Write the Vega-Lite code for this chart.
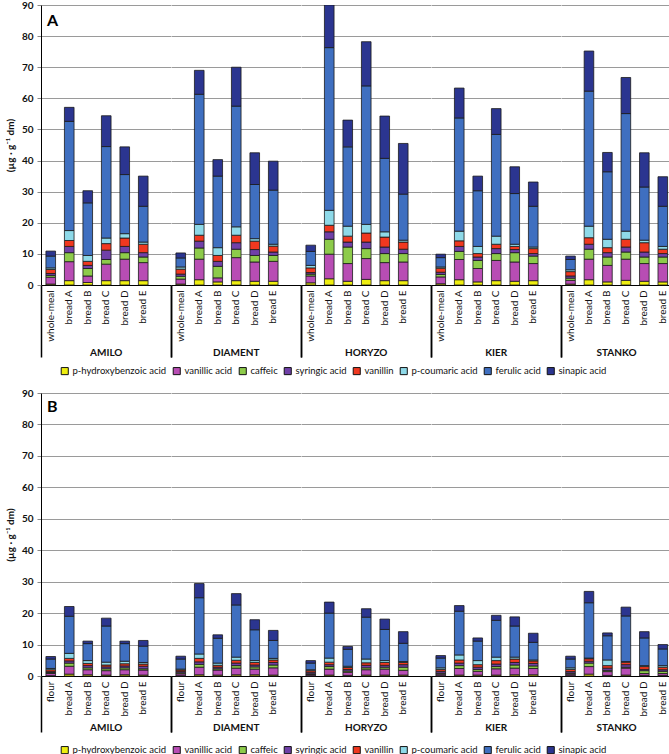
{
"$schema": "https://vega.github.io/schema/vega-lite/v6.json",
"padding": {"left": 5, "top": 0, "right": 0, "bottom": 0},
"data": {"values": [
{"p":"A","v":"AMILO","i":"whole-meal","p-hydroxybenzoic acid":0.3,"vanillic acid":2.2,"caffeic":0.6,"syringic acid":0.6,"vanillin":1.3,"p-coumaric acid":0.5,"ferulic acid":3.8,"sinapic acid":1.6},
{"p":"A","v":"AMILO","i":"bread A","p-hydroxybenzoic acid":1.4,"vanillic acid":6.1,"caffeic":2.9,"syringic acid":2.0,"vanillin":1.9,"p-coumaric acid":3.2,"ferulic acid":35.1,"sinapic acid":4.5},
{"p":"A","v":"AMILO","i":"bread B","p-hydroxybenzoic acid":0.8,"vanillic acid":2.1,"caffeic":2.4,"syringic acid":1.0,"vanillin":1.3,"p-coumaric acid":1.9,"ferulic acid":16.9,"sinapic acid":3.9},
{"p":"A","v":"AMILO","i":"bread C","p-hydroxybenzoic acid":1.4,"vanillic acid":5.3,"caffeic":1.5,"syringic acid":3.0,"vanillin":2.1,"p-coumaric acid":1.8,"ferulic acid":29.4,"sinapic acid":9.9},
{"p":"A","v":"AMILO","i":"bread D","p-hydroxybenzoic acid":1.4,"vanillic acid":6.9,"caffeic":2.1,"syringic acid":2.0,"vanillin":2.7,"p-coumaric acid":1.4,"ferulic acid":19.0,"sinapic acid":8.9},
{"p":"A","v":"AMILO","i":"bread E","p-hydroxybenzoic acid":1.4,"vanillic acid":5.8,"caffeic":1.8,"syringic acid":1.4,"vanillin":2.7,"p-coumaric acid":0.7,"ferulic acid":11.5,"sinapic acid":9.7},
{"p":"A","v":"DIAMENT","i":"whole-meal","p-hydroxybenzoic acid":0.3,"vanillic acid":1.6,"caffeic":0.9,"syringic acid":0.7,"vanillin":1.6,"p-coumaric acid":0.7,"ferulic acid":2.9,"sinapic acid":1.6},
{"p":"A","v":"DIAMENT","i":"bread A","p-hydroxybenzoic acid":1.7,"vanillic acid":6.6,"caffeic":3.6,"syringic acid":2.2,"vanillin":1.9,"p-coumaric acid":3.5,"ferulic acid":41.8,"sinapic acid":7.7},
{"p":"A","v":"DIAMENT","i":"bread B","p-hydroxybenzoic acid":1.0,"vanillic acid":1.3,"caffeic":3.7,"syringic acid":1.6,"vanillin":1.9,"p-coumaric acid":2.5,"ferulic acid":23.0,"sinapic acid":5.3},
{"p":"A","v":"DIAMENT","i":"bread C","p-hydroxybenzoic acid":1.4,"vanillic acid":7.4,"caffeic":2.7,"syringic acid":2.1,"vanillin":2.4,"p-coumaric acid":2.7,"ferulic acid":38.8,"sinapic acid":12.5},
{"p":"A","v":"DIAMENT","i":"bread D","p-hydroxybenzoic acid":1.2,"vanillic acid":6.2,"caffeic":2.1,"syringic acid":1.9,"vanillin":2.7,"p-coumaric acid":0.8,"ferulic acid":17.4,"sinapic acid":10.2},
{"p":"A","v":"DIAMENT","i":"bread E","p-hydroxybenzoic acid":1.2,"vanillic acid":6.4,"caffeic":1.9,"syringic acid":1.1,"vanillin":1.9,"p-coumaric acid":0.6,"ferulic acid":17.4,"sinapic acid":9.3},
{"p":"A","v":"HORYZO","i":"whole-meal","p-hydroxybenzoic acid":0.7,"vanillic acid":2.2,"caffeic":0.6,"syringic acid":0.5,"vanillin":1.5,"p-coumaric acid":0.8,"ferulic acid":4.5,"sinapic acid":2.0},
{"p":"A","v":"HORYZO","i":"bread A","p-hydroxybenzoic acid":2.0,"vanillic acid":7.9,"caffeic":4.8,"syringic acid":2.4,"vanillin":2.1,"p-coumaric acid":4.8,"ferulic acid":52.3,"sinapic acid":13.7},
{"p":"A","v":"HORYZO","i":"bread B","p-hydroxybenzoic acid":1.2,"vanillic acid":5.7,"caffeic":5.3,"syringic acid":1.6,"vanillin":1.9,"p-coumaric acid":3.2,"ferulic acid":25.5,"sinapic acid":8.6},
{"p":"A","v":"HORYZO","i":"bread C","p-hydroxybenzoic acid":1.8,"vanillic acid":6.7,"caffeic":3.2,"syringic acid":2.1,"vanillin":2.9,"p-coumaric acid":2.8,"ferulic acid":44.5,"sinapic acid":14.2},
{"p":"A","v":"HORYZO","i":"bread D","p-hydroxybenzoic acid":1.4,"vanillic acid":5.8,"caffeic":2.9,"syringic acid":2.1,"vanillin":3.2,"p-coumaric acid":1.7,"ferulic acid":23.6,"sinapic acid":13.6},
{"p":"A","v":"HORYZO","i":"bread E","p-hydroxybenzoic acid":1.4,"vanillic acid":6.0,"caffeic":2.7,"syringic acid":1.4,"vanillin":2.3,"p-coumaric acid":0.6,"ferulic acid":14.8,"sinapic acid":16.3},
{"p":"A","v":"KIER","i":"whole-meal","p-hydroxybenzoic acid":0.4,"vanillic acid":2.2,"caffeic":0.8,"syringic acid":0.7,"vanillin":1.3,"p-coumaric acid":0.4,"ferulic acid":3.0,"sinapic acid":1.1},
{"p":"A","v":"KIER","i":"bread A","p-hydroxybenzoic acid":1.7,"vanillic acid":6.5,"caffeic":2.6,"syringic acid":1.6,"vanillin":1.8,"p-coumaric acid":3.1,"ferulic acid":36.4,"sinapic acid":9.6},
{"p":"A","v":"KIER","i":"bread B","p-hydroxybenzoic acid":1.0,"vanillic acid":4.3,"caffeic":2.6,"syringic acid":1.1,"vanillin":1.1,"p-coumaric acid":2.3,"ferulic acid":17.9,"sinapic acid":4.7},
{"p":"A","v":"KIER","i":"bread C","p-hydroxybenzoic acid":1.4,"vanillic acid":6.5,"caffeic":2.2,"syringic acid":1.6,"vanillin":1.4,"p-coumaric acid":2.6,"ferulic acid":32.7,"sinapic acid":8.3},
{"p":"A","v":"KIER","i":"bread D","p-hydroxybenzoic acid":1.2,"vanillic acid":6.2,"caffeic":3.0,"syringic acid":1.0,"vanillin":1.0,"p-coumaric acid":0.7,"ferulic acid":16.3,"sinapic acid":8.6},
{"p":"A","v":"KIER","i":"bread E","p-hydroxybenzoic acid":1.4,"vanillic acid":5.5,"caffeic":2.4,"syringic acid":0.8,"vanillin":1.6,"p-coumaric acid":0.5,"ferulic acid":13.1,"sinapic acid":7.8},
{"p":"A","v":"STANKO","i":"whole-meal","p-hydroxybenzoic acid":0.3,"vanillic acid":1.2,"caffeic":0.7,"syringic acid":0.7,"vanillin":1.4,"p-coumaric acid":0.6,"ferulic acid":3.3,"sinapic acid":1.1},
{"p":"A","v":"STANKO","i":"bread A","p-hydroxybenzoic acid":1.7,"vanillic acid":6.6,"caffeic":3.2,"syringic acid":1.6,"vanillin":2.1,"p-coumaric acid":3.7,"ferulic acid":43.4,"sinapic acid":12.9},
{"p":"A","v":"STANKO","i":"bread B","p-hydroxybenzoic acid":1.0,"vanillic acid":5.3,"caffeic":2.7,"syringic acid":1.4,"vanillin":1.6,"p-coumaric acid":2.7,"ferulic acid":21.7,"sinapic acid":6.2},
{"p":"A","v":"STANKO","i":"bread C","p-hydroxybenzoic acid":1.5,"vanillic acid":6.8,"caffeic":2.3,"syringic acid":1.6,"vanillin":2.5,"p-coumaric acid":2.6,"ferulic acid":37.8,"sinapic acid":11.6},
{"p":"A","v":"STANKO","i":"bread D","p-hydroxybenzoic acid":1.2,"vanillic acid":5.7,"caffeic":2.1,"syringic acid":1.6,"vanillin":3.0,"p-coumaric acid":0.8,"ferulic acid":17.1,"sinapic acid":11.0},
{"p":"A","v":"STANKO","i":"bread E","p-hydroxybenzoic acid":1.0,"vanillic acid":5.9,"caffeic":2.1,"syringic acid":1.1,"vanillin":1.4,"p-coumaric acid":0.9,"ferulic acid":12.9,"sinapic acid":9.5},
{"p":"B","v":"AMILO","i":"flour","p-hydroxybenzoic acid":0.1,"vanillic acid":0.7,"caffeic":0.3,"syringic acid":0.3,"vanillin":0.6,"p-coumaric acid":0.4,"ferulic acid":3.0,"sinapic acid":0.8},
{"p":"B","v":"AMILO","i":"bread A","p-hydroxybenzoic acid":0.6,"vanillic acid":2.5,"caffeic":1.0,"syringic acid":0.7,"vanillin":0.8,"p-coumaric acid":1.6,"ferulic acid":11.8,"sinapic acid":3.1},
{"p":"B","v":"AMILO","i":"bread B","p-hydroxybenzoic acid":0.4,"vanillic acid":1.6,"caffeic":0.6,"syringic acid":0.7,"vanillin":0.7,"p-coumaric acid":0.9,"ferulic acid":5.4,"sinapic acid":0.8},
{"p":"B","v":"AMILO","i":"bread C","p-hydroxybenzoic acid":0.3,"vanillic acid":1.4,"caffeic":0.6,"syringic acid":0.6,"vanillin":0.6,"p-coumaric acid":0.9,"ferulic acid":11.5,"sinapic acid":2.5},
{"p":"B","v":"AMILO","i":"bread D","p-hydroxybenzoic acid":0.4,"vanillic acid":1.6,"caffeic":0.6,"syringic acid":0.6,"vanillin":0.7,"p-coumaric acid":0.8,"ferulic acid":5.6,"sinapic acid":0.8},
{"p":"B","v":"AMILO","i":"bread E","p-hydroxybenzoic acid":0.3,"vanillic acid":1.6,"caffeic":0.4,"syringic acid":0.8,"vanillin":0.7,"p-coumaric acid":0.5,"ferulic acid":5.2,"sinapic acid":1.8},
{"p":"B","v":"DIAMENT","i":"flour","p-hydroxybenzoic acid":0.1,"vanillic acid":0.6,"caffeic":0.3,"syringic acid":0.4,"vanillin":0.5,"p-coumaric acid":0.3,"ferulic acid":3.2,"sinapic acid":0.9},
{"p":"B","v":"DIAMENT","i":"bread A","p-hydroxybenzoic acid":0.4,"vanillic acid":2.4,"caffeic":0.9,"syringic acid":0.8,"vanillin":1.1,"p-coumaric acid":1.4,"ferulic acid":17.9,"sinapic acid":4.5},
{"p":"B","v":"DIAMENT","i":"bread B","p-hydroxybenzoic acid":0.3,"vanillic acid":1.6,"caffeic":0.4,"syringic acid":0.5,"vanillin":0.6,"p-coumaric acid":0.7,"ferulic acid":7.9,"sinapic acid":1.1},
{"p":"B","v":"DIAMENT","i":"bread C","p-hydroxybenzoic acid":0.4,"vanillic acid":2.1,"caffeic":0.8,"syringic acid":0.8,"vanillin":0.9,"p-coumaric acid":1.0,"ferulic acid":16.6,"sinapic acid":3.6},
{"p":"B","v":"DIAMENT","i":"bread D","p-hydroxybenzoic acid":0.4,"vanillic acid":1.8,"caffeic":0.7,"syringic acid":0.6,"vanillin":0.8,"p-coumaric acid":0.6,"ferulic acid":9.8,"sinapic acid":3.2},
{"p":"B","v":"DIAMENT","i":"bread E","p-hydroxybenzoic acid":0.3,"vanillic acid":2.3,"caffeic":0.9,"syringic acid":0.8,"vanillin":0.8,"p-coumaric acid":0.5,"ferulic acid":5.7,"sinapic acid":3.2},
{"p":"B","v":"HORYZO","i":"flour","p-hydroxybenzoic acid":0.1,"vanillic acid":0.4,"caffeic":0.2,"syringic acid":0.5,"vanillin":0.5,"p-coumaric acid":0.3,"ferulic acid":2.1,"sinapic acid":0.8},
{"p":"B","v":"HORYZO","i":"bread A","p-hydroxybenzoic acid":0.3,"vanillic acid":1.9,"caffeic":0.8,"syringic acid":0.6,"vanillin":0.8,"p-coumaric acid":1.3,"ferulic acid":14.3,"sinapic acid":3.5},
{"p":"B","v":"HORYZO","i":"bread B","p-hydroxybenzoic acid":0.2,"vanillic acid":1.0,"caffeic":0.4,"syringic acid":0.5,"vanillin":0.6,"p-coumaric acid":0.4,"ferulic acid":5.4,"sinapic acid":0.9},
{"p":"B","v":"HORYZO","i":"bread C","p-hydroxybenzoic acid":0.3,"vanillic acid":1.7,"caffeic":0.6,"syringic acid":0.8,"vanillin":0.8,"p-coumaric acid":1.2,"ferulic acid":13.3,"sinapic acid":2.7},
{"p":"B","v":"HORYZO","i":"bread D","p-hydroxybenzoic acid":0.3,"vanillic acid":1.9,"caffeic":0.6,"syringic acid":0.6,"vanillin":0.9,"p-coumaric acid":0.6,"ferulic acid":9.9,"sinapic acid":3.3},
{"p":"B","v":"HORYZO","i":"bread E","p-hydroxybenzoic acid":0.3,"vanillic acid":1.5,"caffeic":1.0,"syringic acid":0.8,"vanillin":0.7,"p-coumaric acid":0.3,"ferulic acid":5.8,"sinapic acid":3.7},
{"p":"B","v":"KIER","i":"flour","p-hydroxybenzoic acid":0.1,"vanillic acid":0.5,"caffeic":0.3,"syringic acid":0.6,"vanillin":0.6,"p-coumaric acid":0.5,"ferulic acid":3.1,"sinapic acid":0.8},
{"p":"B","v":"KIER","i":"bread A","p-hydroxybenzoic acid":0.3,"vanillic acid":2.1,"caffeic":0.9,"syringic acid":0.8,"vanillin":1.0,"p-coumaric acid":1.6,"ferulic acid":13.9,"sinapic acid":1.8},
{"p":"B","v":"KIER","i":"bread B","p-hydroxybenzoic acid":0.3,"vanillic acid":1.2,"caffeic":0.6,"syringic acid":0.7,"vanillin":0.8,"p-coumaric acid":1.3,"ferulic acid":6.2,"sinapic acid":1.0},
{"p":"B","v":"KIER","i":"bread C","p-hydroxybenzoic acid":0.3,"vanillic acid":2.0,"caffeic":0.7,"syringic acid":0.8,"vanillin":1.1,"p-coumaric acid":1.1,"ferulic acid":11.7,"sinapic acid":1.6},
{"p":"B","v":"KIER","i":"bread D","p-hydroxybenzoic acid":0.4,"vanillic acid":2.1,"caffeic":1.0,"syringic acid":0.8,"vanillin":1.1,"p-coumaric acid":0.6,"ferulic acid":9.9,"sinapic acid":2.9},
{"p":"B","v":"KIER","i":"bread E","p-hydroxybenzoic acid":0.4,"vanillic acid":2.0,"caffeic":0.8,"syringic acid":0.8,"vanillin":0.8,"p-coumaric acid":0.3,"ferulic acid":5.6,"sinapic acid":2.9},
{"p":"B","v":"STANKO","i":"flour","p-hydroxybenzoic acid":0.1,"vanillic acid":0.5,"caffeic":0.3,"syringic acid":0.5,"vanillin":0.7,"p-coumaric acid":0.5,"ferulic acid":2.8,"sinapic acid":0.9},
{"p":"B","v":"STANKO","i":"bread A","p-hydroxybenzoic acid":0.6,"vanillic acid":2.4,"caffeic":1.1,"syringic acid":0.6,"vanillin":0.8,"p-coumaric acid":0.2,"ferulic acid":17.6,"sinapic acid":3.6},
{"p":"B","v":"STANKO","i":"bread B","p-hydroxybenzoic acid":0.2,"vanillic acid":1.2,"caffeic":0.4,"syringic acid":0.7,"vanillin":0.8,"p-coumaric acid":1.8,"ferulic acid":7.7,"sinapic acid":0.9},
{"p":"B","v":"STANKO","i":"bread C","p-hydroxybenzoic acid":0.3,"vanillic acid":2.2,"caffeic":0.3,"syringic acid":0.8,"vanillin":0.8,"p-coumaric acid":0.2,"ferulic acid":14.5,"sinapic acid":2.8},
{"p":"B","v":"STANKO","i":"bread D","p-hydroxybenzoic acid":0.2,"vanillic acid":0.6,"caffeic":0.9,"syringic acid":0.4,"vanillin":0.9,"p-coumaric acid":0.3,"ferulic acid":8.8,"sinapic acid":2.0},
{"p":"B","v":"STANKO","i":"bread E","p-hydroxybenzoic acid":0.2,"vanillic acid":0.6,"caffeic":0.7,"syringic acid":0.5,"vanillin":0.8,"p-coumaric acid":0.5,"ferulic acid":5.3,"sinapic acid":1.4}
]},
"transform": [
 {"fold": ["p-hydroxybenzoic acid","vanillic acid","caffeic","syringic acid","vanillin","p-coumaric acid","ferulic acid","sinapic acid"], "as": ["compound","value"]},
 {"calculate": "indexof(['p-hydroxybenzoic acid','vanillic acid','caffeic','syringic acid','vanillin','p-coumaric acid','ferulic acid','sinapic acid'], datum.compound)", "as": "k"}
],
"spacing": 11,
"resolve": {"scale": {"color": "independent"}},
"vconcat": [
{"hconcat": [
 {"width": 129.5, "height": 280,
  "transform": [{"filter": "datum.p=='A' && datum.v=='AMILO'"}],
  "layer": [
   {"mark": {"type": "bar", "stroke": "#1a1a1a", "strokeWidth": 0.8},
    "encoding": {
     "x": {"field": "i", "type": "nominal", "scale": {"domain": ["whole-meal","bread A","bread B","bread C","bread D","bread E"], "paddingInner": 0.48, "paddingOuter": 0.74, "align": 0.18}, "axis": {"title": "AMILO", "titleY": 62, "labelAngle": -90, "ticks": false, "labelPadding": 5, "titleFontWeight": "bold", "domainColor": "#000"}},
     "y": {"field": "value", "type": "quantitative", "stack": "zero", "scale": {"domain": [0, 90], "nice": false}, "axis": {"values": [0,10,20,30,40,50,60,70,80,90], "labelOverlap": false, "grid": true, "labelFontWeight": "bold", "tickSize": 4, "labelPadding": 4, "title": "(µg · g⁻¹ dm)", "titleFontWeight": "bold", "titlePadding": 6, "domainColor": "#000"}},
     "order": {"field": "k", "type": "quantitative"},
     "color": {"field": "compound", "type": "nominal", "title": " ", "scale": {"domain": ["p-hydroxybenzoic acid","vanillic acid","caffeic","syringic acid","vanillin","p-coumaric acid","ferulic acid","sinapic acid"], "range": ["#EEEE10","#B84DB4","#8DCB4A","#7040A8","#F0381F","#8ED9E8","#3F6FC0","#2B3590"]}}
    }},
   {"transform": [{"filter": "datum.i=='whole-meal' && datum.compound=='caffeic'"}],
    "mark": {"type": "text", "text": "A", "fontSize": 16, "fontWeight": "bold", "align": "left", "baseline": "middle", "dx": 2},
    "encoding": {
     "x": {"datum": "whole-meal", "type": "nominal", "scale": {"domain": ["whole-meal","bread A","bread B","bread C","bread D","bread E"], "paddingInner": 0.48, "paddingOuter": 0.74, "align": 0.18}, "axis": null},
     "y": {"datum": 85, "type": "quantitative", "scale": {"domain": [0, 90], "nice": false}, "axis": null}}},
   {"mark": {"type": "point", "opacity": 0},
    "encoding": {"x": {"field": "v", "type": "nominal", "scale": {"type": "band", "paddingInner": 0, "paddingOuter": 0}, "axis": {"orient": "bottom", "tickBand": "extent", "tickSize": 72, "tickColor": "#000", "tickWidth": 1.5, "labels": false, "domain": false, "title": null, "grid": false}}}}
  ],
  "resolve": {"scale": {"x": "independent", "y": "independent"}, "axis": {"x": "independent", "y": "independent"}}},
 {"width": 129.5, "height": 280,
  "transform": [{"filter": "datum.p=='A' && datum.v=='DIAMENT'"}],
  "layer": [
   {"mark": {"type": "bar", "stroke": "#1a1a1a", "strokeWidth": 0.8},
    "encoding": {
     "x": {"field": "i", "type": "nominal", "scale": {"domain": ["whole-meal","bread A","bread B","bread C","bread D","bread E"], "paddingInner": 0.48, "paddingOuter": 0.74, "align": 0.18}, "axis": {"title": "DIAMENT", "titleY": 62, "labelAngle": -90, "ticks": false, "labelPadding": 5, "titleFontWeight": "bold", "domainColor": "#000"}},
     "y": {"field": "value", "type": "quantitative", "stack": "zero", "scale": {"domain": [0, 90], "nice": false}, "axis": {"values": [0,10,20,30,40,50,60,70,80,90], "grid": true, "labels": false, "ticks": false, "domain": false, "title": null}},
     "order": {"field": "k", "type": "quantitative"},
     "color": {"field": "compound", "type": "nominal", "title": " ", "scale": {"domain": ["p-hydroxybenzoic acid","vanillic acid","caffeic","syringic acid","vanillin","p-coumaric acid","ferulic acid","sinapic acid"], "range": ["#EEEE10","#B84DB4","#8DCB4A","#7040A8","#F0381F","#8ED9E8","#3F6FC0","#2B3590"]}}
    }},
   {"mark": {"type": "point", "opacity": 0},
    "encoding": {"x": {"field": "v", "type": "nominal", "scale": {"type": "band", "paddingInner": 0, "paddingOuter": 0}, "axis": {"orient": "bottom", "tickBand": "extent", "tickSize": 72, "tickColor": "#000", "tickWidth": 1.5, "labels": false, "domain": false, "title": null, "grid": false}}}}
  ],
  "resolve": {"scale": {"x": "independent"}, "axis": {"x": "independent"}}},
 {"width": 129.5, "height": 280,
  "transform": [{"filter": "datum.p=='A' && datum.v=='HORYZO'"}],
  "layer": [
   {"mark": {"type": "bar", "stroke": "#1a1a1a", "strokeWidth": 0.8, "clip": true},
    "encoding": {
     "x": {"field": "i", "type": "nominal", "scale": {"domain": ["whole-meal","bread A","bread B","bread C","bread D","bread E"], "paddingInner": 0.48, "paddingOuter": 0.74, "align": 0.18}, "axis": {"title": "HORYZO", "titleY": 62, "labelAngle": -90, "ticks": false, "labelPadding": 5, "titleFontWeight": "bold", "domainColor": "#000"}},
     "y": {"field": "value", "type": "quantitative", "stack": "zero", "scale": {"domain": [0, 90], "nice": false}, "axis": {"values": [0,10,20,30,40,50,60,70,80,90], "grid": true, "labels": false, "ticks": false, "domain": false, "title": null}},
     "order": {"field": "k", "type": "quantitative"},
     "color": {"field": "compound", "type": "nominal", "title": " ", "scale": {"domain": ["p-hydroxybenzoic acid","vanillic acid","caffeic","syringic acid","vanillin","p-coumaric acid","ferulic acid","sinapic acid"], "range": ["#EEEE10","#B84DB4","#8DCB4A","#7040A8","#F0381F","#8ED9E8","#3F6FC0","#2B3590"]}}
    }},
   {"mark": {"type": "point", "opacity": 0},
    "encoding": {"x": {"field": "v", "type": "nominal", "scale": {"type": "band", "paddingInner": 0, "paddingOuter": 0}, "axis": {"orient": "bottom", "tickBand": "extent", "tickSize": 72, "tickColor": "#000", "tickWidth": 1.5, "labels": false, "domain": false, "title": null, "grid": false}}}}
  ],
  "resolve": {"scale": {"x": "independent"}, "axis": {"x": "independent"}}},
 {"width": 129.5, "height": 280,
  "transform": [{"filter": "datum.p=='A' && datum.v=='KIER'"}],
  "layer": [
   {"mark": {"type": "bar", "stroke": "#1a1a1a", "strokeWidth": 0.8},
    "encoding": {
     "x": {"field": "i", "type": "nominal", "scale": {"domain": ["whole-meal","bread A","bread B","bread C","bread D","bread E"], "paddingInner": 0.48, "paddingOuter": 0.74, "align": 0.18}, "axis": {"title": "KIER", "titleY": 62, "labelAngle": -90, "ticks": false, "labelPadding": 5, "titleFontWeight": "bold", "domainColor": "#000"}},
     "y": {"field": "value", "type": "quantitative", "stack": "zero", "scale": {"domain": [0, 90], "nice": false}, "axis": {"values": [0,10,20,30,40,50,60,70,80,90], "grid": true, "labels": false, "ticks": false, "domain": false, "title": null}},
     "order": {"field": "k", "type": "quantitative"},
     "color": {"field": "compound", "type": "nominal", "title": " ", "scale": {"domain": ["p-hydroxybenzoic acid","vanillic acid","caffeic","syringic acid","vanillin","p-coumaric acid","ferulic acid","sinapic acid"], "range": ["#EEEE10","#B84DB4","#8DCB4A","#7040A8","#F0381F","#8ED9E8","#3F6FC0","#2B3590"]}}
    }},
   {"mark": {"type": "point", "opacity": 0},
    "encoding": {"x": {"field": "v", "type": "nominal", "scale": {"type": "band", "paddingInner": 0, "paddingOuter": 0}, "axis": {"orient": "bottom", "tickBand": "extent", "tickSize": 72, "tickColor": "#000", "tickWidth": 1.5, "labels": false, "domain": false, "title": null, "grid": false}}}}
  ],
  "resolve": {"scale": {"x": "independent"}, "axis": {"x": "independent"}}},
 {"width": 110, "height": 280,
  "transform": [{"filter": "datum.p=='A' && datum.v=='STANKO'"}],
  "layer": [
   {"mark": {"type": "bar", "stroke": "#1a1a1a", "strokeWidth": 0.8},
    "encoding": {
     "x": {"field": "i", "type": "nominal", "scale": {"domain": ["whole-meal","bread A","bread B","bread C","bread D","bread E"], "paddingInner": 0.48, "paddingOuter": 0.22, "align": 0.58}, "axis": {"title": "STANKO", "titleY": 62, "labelAngle": -90, "ticks": false, "labelPadding": 5, "titleFontWeight": "bold", "domainColor": "#000"}},
     "y": {"field": "value", "type": "quantitative", "stack": "zero", "scale": {"domain": [0, 90], "nice": false}, "axis": {"orient": "right", "values": [0,10,20,30,40,50,60,70,80,90], "grid": true, "labels": false, "ticks": false, "domain": true, "domainColor": "#999", "title": null}},
     "order": {"field": "k", "type": "quantitative"},
     "color": {"field": "compound", "type": "nominal", "title": " ", "scale": {"domain": ["p-hydroxybenzoic acid","vanillic acid","caffeic","syringic acid","vanillin","p-coumaric acid","ferulic acid","sinapic acid"], "range": ["#EEEE10","#B84DB4","#8DCB4A","#7040A8","#F0381F","#8ED9E8","#3F6FC0","#2B3590"]}}
    }},
   {"mark": {"type": "point", "opacity": 0},
    "encoding": {"x": {"field": "v", "type": "nominal", "scale": {"type": "band", "paddingInner": 0, "paddingOuter": 0}, "axis": {"orient": "bottom", "tickBand": "extent", "tickSize": 72, "tickColor": "#000", "tickWidth": 1.5, "labels": false, "domain": false, "title": null, "grid": false}}}}
  ],
  "resolve": {"scale": {"x": "independent"}, "axis": {"x": "independent"}}}
 ],
 "spacing": 0, "bounds": "flush", "resolve": {"scale": {"color": "shared", "y": "independent"}, "axis": {"y": "independent"}}},
{"hconcat": [
 {"width": 129.5, "height": 283,
  "transform": [{"filter": "datum.p=='B' && datum.v=='AMILO'"}],
  "layer": [
   {"mark": {"type": "bar", "stroke": "#1a1a1a", "strokeWidth": 0.8},
    "encoding": {
     "x": {"field": "i", "type": "nominal", "scale": {"domain": ["flour","bread A","bread B","bread C","bread D","bread E"], "paddingInner": 0.48, "paddingOuter": 0.74, "align": 0.18}, "axis": {"title": "AMILO", "titleY": 46, "labelAngle": -90, "ticks": false, "labelPadding": 5, "titleFontWeight": "bold", "domainColor": "#000"}},
     "y": {"field": "value", "type": "quantitative", "stack": "zero", "scale": {"domain": [0, 90], "nice": false}, "axis": {"values": [0,10,20,30,40,50,60,70,80,90], "labelOverlap": false, "grid": true, "labelFontWeight": "bold", "tickSize": 4, "labelPadding": 4, "title": "(µg · g⁻¹ dm)", "titleFontWeight": "bold", "titlePadding": 6, "domainColor": "#000"}},
     "order": {"field": "k", "type": "quantitative"},
     "color": {"field": "compound", "type": "nominal", "title": " ", "legend": {"offset": 12}, "scale": {"domain": ["p-hydroxybenzoic acid","vanillic acid","caffeic","syringic acid","vanillin","p-coumaric acid","ferulic acid","sinapic acid"], "range": ["#EEEE10","#B84DB4","#8DCB4A","#7040A8","#F0381F","#8ED9E8","#3F6FC0","#2B3590"]}}
    }},
   {"transform": [{"filter": "datum.i=='flour' && datum.compound=='caffeic'"}],
    "mark": {"type": "text", "text": "B", "fontSize": 16, "fontWeight": "bold", "align": "left", "baseline": "middle", "dx": 2},
    "encoding": {
     "x": {"datum": "flour", "type": "nominal", "scale": {"domain": ["flour","bread A","bread B","bread C","bread D","bread E"], "paddingInner": 0.48, "paddingOuter": 0.74, "align": 0.18}, "axis": null},
     "y": {"datum": 85.5, "type": "quantitative", "scale": {"domain": [0, 90], "nice": false}, "axis": null}}},
   {"mark": {"type": "point", "opacity": 0},
    "encoding": {"x": {"field": "v", "type": "nominal", "scale": {"type": "band", "paddingInner": 0, "paddingOuter": 0}, "axis": {"orient": "bottom", "tickBand": "extent", "tickSize": 56, "tickColor": "#000", "tickWidth": 1.5, "labels": false, "domain": false, "title": null, "grid": false}}}}
  ],
  "resolve": {"scale": {"x": "independent", "y": "independent"}, "axis": {"x": "independent", "y": "independent"}}},
 {"width": 129.5, "height": 283,
  "transform": [{"filter": "datum.p=='B' && datum.v=='DIAMENT'"}],
  "layer": [
   {"mark": {"type": "bar", "stroke": "#1a1a1a", "strokeWidth": 0.8},
    "encoding": {
     "x": {"field": "i", "type": "nominal", "scale": {"domain": ["flour","bread A","bread B","bread C","bread D","bread E"], "paddingInner": 0.48, "paddingOuter": 0.74, "align": 0.18}, "axis": {"title": "DIAMENT", "titleY": 46, "labelAngle": -90, "ticks": false, "labelPadding": 5, "titleFontWeight": "bold", "domainColor": "#000"}},
     "y": {"field": "value", "type": "quantitative", "stack": "zero", "scale": {"domain": [0, 90], "nice": false}, "axis": {"values": [0,10,20,30,40,50,60,70,80,90], "grid": true, "labels": false, "ticks": false, "domain": false, "title": null}},
     "order": {"field": "k", "type": "quantitative"},
     "color": {"field": "compound", "type": "nominal", "title": " ", "legend": {"offset": 12}, "scale": {"domain": ["p-hydroxybenzoic acid","vanillic acid","caffeic","syringic acid","vanillin","p-coumaric acid","ferulic acid","sinapic acid"], "range": ["#EEEE10","#B84DB4","#8DCB4A","#7040A8","#F0381F","#8ED9E8","#3F6FC0","#2B3590"]}}
    }},
   {"mark": {"type": "point", "opacity": 0},
    "encoding": {"x": {"field": "v", "type": "nominal", "scale": {"type": "band", "paddingInner": 0, "paddingOuter": 0}, "axis": {"orient": "bottom", "tickBand": "extent", "tickSize": 56, "tickColor": "#000", "tickWidth": 1.5, "labels": false, "domain": false, "title": null, "grid": false}}}}
  ],
  "resolve": {"scale": {"x": "independent"}, "axis": {"x": "independent"}}},
 {"width": 129.5, "height": 283,
  "transform": [{"filter": "datum.p=='B' && datum.v=='HORYZO'"}],
  "layer": [
   {"mark": {"type": "bar", "stroke": "#1a1a1a", "strokeWidth": 0.8},
    "encoding": {
     "x": {"field": "i", "type": "nominal", "scale": {"domain": ["flour","bread A","bread B","bread C","bread D","bread E"], "paddingInner": 0.48, "paddingOuter": 0.74, "align": 0.18}, "axis": {"title": "HORYZO", "titleY": 46, "labelAngle": -90, "ticks": false, "labelPadding": 5, "titleFontWeight": "bold", "domainColor": "#000"}},
     "y": {"field": "value", "type": "quantitative", "stack": "zero", "scale": {"domain": [0, 90], "nice": false}, "axis": {"values": [0,10,20,30,40,50,60,70,80,90], "grid": true, "labels": false, "ticks": false, "domain": false, "title": null}},
     "order": {"field": "k", "type": "quantitative"},
     "color": {"field": "compound", "type": "nominal", "title": " ", "legend": {"offset": 12}, "scale": {"domain": ["p-hydroxybenzoic acid","vanillic acid","caffeic","syringic acid","vanillin","p-coumaric acid","ferulic acid","sinapic acid"], "range": ["#EEEE10","#B84DB4","#8DCB4A","#7040A8","#F0381F","#8ED9E8","#3F6FC0","#2B3590"]}}
    }},
   {"mark": {"type": "point", "opacity": 0},
    "encoding": {"x": {"field": "v", "type": "nominal", "scale": {"type": "band", "paddingInner": 0, "paddingOuter": 0}, "axis": {"orient": "bottom", "tickBand": "extent", "tickSize": 56, "tickColor": "#000", "tickWidth": 1.5, "labels": false, "domain": false, "title": null, "grid": false}}}}
  ],
  "resolve": {"scale": {"x": "independent"}, "axis": {"x": "independent"}}},
 {"width": 129.5, "height": 283,
  "transform": [{"filter": "datum.p=='B' && datum.v=='KIER'"}],
  "layer": [
   {"mark": {"type": "bar", "stroke": "#1a1a1a", "strokeWidth": 0.8},
    "encoding": {
     "x": {"field": "i", "type": "nominal", "scale": {"domain": ["flour","bread A","bread B","bread C","bread D","bread E"], "paddingInner": 0.48, "paddingOuter": 0.74, "align": 0.18}, "axis": {"title": "KIER", "titleY": 46, "labelAngle": -90, "ticks": false, "labelPadding": 5, "titleFontWeight": "bold", "domainColor": "#000"}},
     "y": {"field": "value", "type": "quantitative", "stack": "zero", "scale": {"domain": [0, 90], "nice": false}, "axis": {"values": [0,10,20,30,40,50,60,70,80,90], "grid": true, "labels": false, "ticks": false, "domain": false, "title": null}},
     "order": {"field": "k", "type": "quantitative"},
     "color": {"field": "compound", "type": "nominal", "title": " ", "legend": {"offset": 12}, "scale": {"domain": ["p-hydroxybenzoic acid","vanillic acid","caffeic","syringic acid","vanillin","p-coumaric acid","ferulic acid","sinapic acid"], "range": ["#EEEE10","#B84DB4","#8DCB4A","#7040A8","#F0381F","#8ED9E8","#3F6FC0","#2B3590"]}}
    }},
   {"mark": {"type": "point", "opacity": 0},
    "encoding": {"x": {"field": "v", "type": "nominal", "scale": {"type": "band", "paddingInner": 0, "paddingOuter": 0}, "axis": {"orient": "bottom", "tickBand": "extent", "tickSize": 56, "tickColor": "#000", "tickWidth": 1.5, "labels": false, "domain": false, "title": null, "grid": false}}}}
  ],
  "resolve": {"scale": {"x": "independent"}, "axis": {"x": "independent"}}},
 {"width": 110, "height": 283,
  "transform": [{"filter": "datum.p=='B' && datum.v=='STANKO'"}],
  "layer": [
   {"mark": {"type": "bar", "stroke": "#1a1a1a", "strokeWidth": 0.8},
    "encoding": {
     "x": {"field": "i", "type": "nominal", "scale": {"domain": ["flour","bread A","bread B","bread C","bread D","bread E"], "paddingInner": 0.48, "paddingOuter": 0.22, "align": 0.58}, "axis": {"title": "STANKO", "titleY": 46, "labelAngle": -90, "ticks": false, "labelPadding": 5, "titleFontWeight": "bold", "domainColor": "#000"}},
     "y": {"field": "value", "type": "quantitative", "stack": "zero", "scale": {"domain": [0, 90], "nice": false}, "axis": {"orient": "right", "values": [0,10,20,30,40,50,60,70,80,90], "grid": true, "labels": false, "ticks": false, "domain": true, "domainColor": "#999", "title": null}},
     "order": {"field": "k", "type": "quantitative"},
     "color": {"field": "compound", "type": "nominal", "title": " ", "legend": {"offset": 12}, "scale": {"domain": ["p-hydroxybenzoic acid","vanillic acid","caffeic","syringic acid","vanillin","p-coumaric acid","ferulic acid","sinapic acid"], "range": ["#EEEE10","#B84DB4","#8DCB4A","#7040A8","#F0381F","#8ED9E8","#3F6FC0","#2B3590"]}}
    }},
   {"mark": {"type": "point", "opacity": 0},
    "encoding": {"x": {"field": "v", "type": "nominal", "scale": {"type": "band", "paddingInner": 0, "paddingOuter": 0}, "axis": {"orient": "bottom", "tickBand": "extent", "tickSize": 56, "tickColor": "#000", "tickWidth": 1.5, "labels": false, "domain": false, "title": null, "grid": false}}}}
  ],
  "resolve": {"scale": {"x": "independent"}, "axis": {"x": "independent"}}}
 ],
 "spacing": 0, "bounds": "flush", "resolve": {"scale": {"color": "shared", "y": "independent"}, "axis": {"y": "independent"}}}
],
"config": {
 "font": "Lato",
 "view": {"stroke": null},
 "axis": {"labelFont": "Lato", "titleFont": "Lato", "labelColor": "#111", "titleColor": "#111", "gridColor": "#9a9a9a", "labelFontSize": 10, "titleFontSize": 10},
 "legend": {"orient": "bottom", "direction": "horizontal", "titleOrient": "left", "titlePadding": 19, "titleFontSize": 10, "symbolType": "square", "symbolSize": 50, "symbolStrokeColor": "#111", "symbolStrokeWidth": 1, "labelFont": "Lato", "labelFontSize": 9.5, "labelColor": "#111", "columnPadding": 4, "labelOffset": 3, "offset": 8}
}
}
